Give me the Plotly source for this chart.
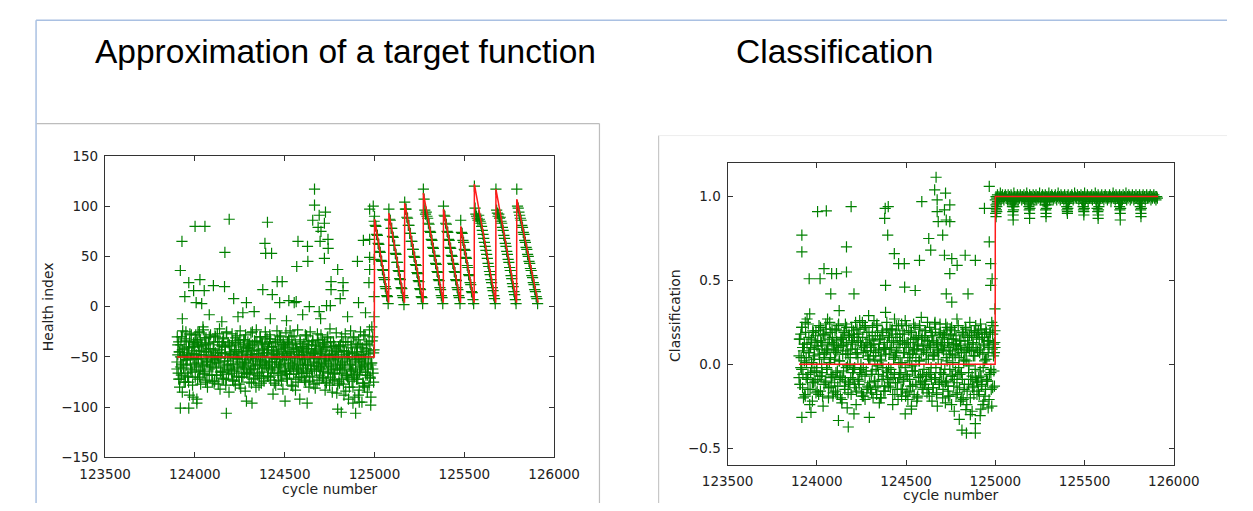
import plotly.graph_objects as go

W, H = 1253, 511

# ---------------- data: left panel (Health index) ----------------
hi_cycles = list(range(123900, 125000, 5))
hi_cycles_c = list(range(123902, 125002, 5))
hi_a = [
    -55,-38,-72,-45,-60,-30,-85,-50,-42,-66,-25,-58,-48,-75,-35,-52,-62,-40,-90,-47,
    -44,-28,-60,-36,-52,-70,-33,-48,-57,-20,-45,-64,-38,-55,-80,-42,-30,-58,-49,-68,
    -52,-35,-74,-46,-61,-27,-56,-43,-82,-50,-39,-65,-31,-54,-47,-72,-58,-36,-63,-45,
    -48,-66,-34,-57,-43,-78,-51,-29,-62,-45,-55,-38,-70,-49,-60,-33,-84,-53,-41,-67,
    -56,-37,-63,-48,-25,-59,-44,-71,-52,-35,-66,-47,-58,-30,-76,-50,-42,-61,-38,-54,
    -46,-69,-40,-57,-32,-63,-51,-87,-44,-60,-36,-55,-48,-73,-29,-58,-42,-65,-50,-38,
    -53,-41,-67,-35,-59,-47,-24,-62,-50,-79,-43,-56,-37,-64,-52,-45,-70,-33,-58,-48,
    -40,-61,-52,-28,-66,-45,-57,-38,-74,-49,-63,-34,-55,-46,-81,-42,-59,-50,-36,-68,
    -47,-58,-33,-64,-52,-41,-75,-56,-30,-62,-48,-70,-44,-85,-53,-39,-66,-57,-45,-78,
    -50,-63,-38,-72,-55,-44,-88,-60,-35,-68,-52,-47,-80,-58,-41,-74,-62,-30,-90,-55,
    -45,-67,-52,-83,-38,-60,-48,-76,-28,-57,-65,-42,-85,-50,-35,-70,-58,-20,-62,-46,
]
hi_b = [
    -62,-48,-35,-80,-50,-68,-43,-58,-75,-32,-53,-46,-70,-40,-88,-57,-28,-65,-51,-38,
    -35,-56,-48,-72,-40,-25,-63,-52,-38,-66,-58,-31,-75,-45,-54,-36,-68,-42,-60,-50,
    -60,-44,-53,-30,-68,-49,-77,-38,-55,-64,-46,-35,-72,-58,-40,-26,-62,-51,-85,-48,
    -57,-39,-73,-50,-64,-36,-45,-60,-52,-70,-33,-81,-47,-58,-40,-66,-55,-44,-62,-35,
    -42,-65,-51,-76,-38,-54,-62,-35,-80,-47,-58,-43,-69,-55,-36,-61,-49,-74,-56,-30,
    -58,-43,-62,-35,-70,-48,-55,-40,-66,-52,-78,-45,-33,-60,-50,-68,-57,-38,-82,-47,
    -40,-64,-49,-72,-56,-36,-61,-45,-30,-58,-67,-50,-83,-42,-62,-75,-48,-57,-40,-66,
    -55,-46,-73,-58,-42,-64,-35,-80,-51,-59,-38,-70,-47,-62,-44,-56,-76,-33,-60,-52,
    -62,-45,-70,-38,-57,-83,-49,-40,-66,-54,-78,-35,-60,-47,-63,-72,-51,-42,-86,-58,
    -40,-76,-58,-48,-66,-35,-62,-54,-84,-45,-70,-92,-50,-63,-38,-57,-80,-68,-47,-61,
    -72,-40,-88,-55,-63,-48,-95,-58,-45,-80,-52,-37,-68,-60,-78,-44,-90,-56,-30,-75,
]
hi_c = [
    -30,-66,-45,-72,-38,-57,-24,-61,-49,-75,-34,-53,-69,-41,-27,-63,-47,-78,-36,-58,
    -70,-33,-52,-26,-64,-44,-77,-39,-59,-23,-67,-48,-31,-73,-55,-37,-62,-28,-50,-74,
    -42,-76,-29,-56,-68,-35,-51,-22,-65,-46,-71,-32,-60,-40,-78,-25,-54,-67,-38,-47,
    -63,-27,-58,-74,-43,-31,-69,-52,-36,-77,-24,-61,-45,-70,-33,-56,-28,-66,-48,-39,
    -75,-41,-26,-62,-50,-72,-34,-57,-23,-68,-44,-78,-30,-53,-65,-37,-71,-46,-25,-59,
    -32,-69,-55,-28,-73,-40,-61,-47,-76,-35,-52,-24,-66,-43,-58,-30,-74,-50,-36,-64,
    -57,-26,-71,-45,-33,-67,-51,-78,-38,-60,-29,-54,-72,-41,-23,-63,-48,-35,-70,-44,
    -66,-37,-53,-75,-29,-58,-42,-69,-25,-62,-47,-34,-77,-51,-39,-64,-27,-56,-73,-40,
    -28,-60,-43,-71,-36,-54,-76,-31,-65,-48,-22,-59,-40,-73,-35,-67,-52,-26,-62,-45,
    -74,-39,-61,-30,-56,-77,-44,-27,-68,-50,-35,-72,-58,-24,-64,-46,-31,-70,-53,-37,
    -49,-72,-33,-65,-25,-59,-41,-76,-54,-29,-68,-38,-62,-47,-23,-71,-56,-34,-66,-43,
]
hi_out_x = [123928,123919,123944,124001,124056,124191,124167,123966,124028,124103,
            124052,123993,124165,124216,124007,124038,124404,124390,124394,124427,
            124378,124458,124486,124574,124627,124629,124567,124431,124472,124564,
            124666,124666,124656,124692,124727,124686,124721,124702,124741,124697,
            124742,124721,124795,124758,124758,124825,124825,124809,124754,124733,
            124692,124637,124905,124938,124969,124973,124973,124973,124993,124973,
            124911,124523,124553,124287,124267,124998,124998,124998,124998,
            123919,123966,124011,124011,124175,124287,124318,124502,124584,124625,
            124795,124815,124895,124880,124915,124942,124979,
            123930,124080,124150,124240,124330,124420,124510,124600,124700,124850,124950]
hi_out_y = [65,36,10,80,80,87,54,24,27,21,
            16,16,20,8,4,3,84,63,53,53,
            17,25,25,65,60,45,40,12,4,5,
            117,101,86,91,94,79,83,75,67,65,
            58,48,37,25,17,24,16,8,1,1,
            -5,0,45,66,24,37,49,97,100,67,
            4,6,4,4,-6,-10,10,47,85,
            -101,-101,-92,-96,-106,-94,-96,-94,-92,-96,
            -102,-105,-106,-96,-95,-79,-98,
            -12,-8,-15,-10,-5,-12,-14,-8,-12,-10,-6]

flat_start = 123900
flat_level = -50
tooth_start = [125000, 125080, 125168, 125272, 125384, 125480, 125556, 125676, 125792]
tooth_end = 125912
tooth_peak = [87, 93, 103, 113, 97, 80, 122, 117, 107]
tooth_floor = 4

saw_x = list(range(125000, 125912, 4))
saw_y = [
    90,81,80,72,71,63,62,55,54,46,45,37,36,29,27,20,18,11,10,3,
    97,87,86,78,78,70,69,61,61,53,52,44,44,36,35,28,27,19,18,11,9,2,
    104,97,97,89,88,81,81,73,73,65,65,57,57,50,49,42,41,34,33,26,25,18,17,10,9,3,
    117,107,96,92,94,90,88,83,82,75,74,67,66,59,58,51,50,43,42,35,34,27,26,19,17,11,9,3,
    100,91,90,83,82,75,74,67,66,59,58,51,50,43,42,35,34,27,26,19,17,11,9,3,
    86,74,73,66,64,57,56,49,48,41,39,32,31,24,22,15,14,7,3,
    120,98,92,90,88,86,91,87,85,83,80,76,72,68,64,60,56,52,48,43,40,35,32,27,24,19,16,11,8,3,
    117,96,93,90,92,88,89,85,83,79,76,71,68,63,60,55,52,47,44,39,36,31,28,23,20,15,12,7,3,
    117,100,98,94,91,88,86,81,79,74,72,66,64,59,57,52,50,45,43,38,36,31,29,24,22,17,15,10,8,3,
]

# ---------------- data: right panel (Classification) ----------------
cls_cycles = list(range(123900, 125000, 5))
cls_cycles_c = list(range(123902, 125002, 5))
cls_a = [
    .05,-.12,.18,-.03,.10,-.20,.02,.25,-.08,.12,-.15,.07,.30,-.05,.15,-.22,.03,.09,-.10,.20,
    -.02,.14,-.18,.06,.22,-.07,.11,-.25,.04,.17,-.11,.08,.27,-.14,.01,.19,-.06,.13,-.19,.09,
    .03,-.16,.21,-.04,.10,.32,-.09,.15,-.21,.06,.12,-.13,.24,-.02,.08,-.17,.18,.00,-.08,.14,
    -.05,.20,-.12,.09,-.24,.16,.04,-.10,.26,-.03,.11,-.19,.07,.22,-.07,.13,-.15,.05,.29,-.11,
    .08,-.06,.17,-.20,.12,.02,-.14,.23,-.01,.09,-.23,.15,.05,-.09,.19,-.16,.10,.31,-.04,.13,
    -.13,.06,.21,-.08,.14,-.18,.03,.27,-.11,.08,.16,-.21,.01,.12,-.06,.24,-.15,.07,.18,-.02,
    .10,-.17,.04,.20,-.09,.13,-.25,.06,.15,-.04,.22,-.12,.09,-.19,.17,.02,-.07,.28,-.14,.11,
    -.03,.16,-.10,.07,.25,-.15,.12,-.06,.19,-.22,.05,.14,-.08,.21,-.17,.09,.03,-.12,.24,-.05,
    .13,-.20,.08,.17,-.11,.04,.22,-.16,.10,-.03,.18,-.24,.06,.15,-.09,.12,-.18,.27,-.06,.09,
    -.14,.11,-.05,.19,-.21,.07,.14,-.27,.02,.16,-.12,.09,-.30,.20,-.07,.13,-.18,.05,.23,-.10,
    .08,-.16,.15,-.04,.21,-.12,.06,-.22,.18,.03,-.09,.14,-.26,.10,.19,-.05,.25,-.14,.12,.07,
]
cls_b = [
    -.08,.15,-.02,.22,-.14,.08,.12,-.19,.04,.27,-.06,.16,-.24,.10,.01,-.11,.19,-.04,.13,-.17,
    .11,-.09,.20,.03,-.16,.13,-.05,.18,-.12,.07,.24,-.02,.09,-.20,.15,.04,-.13,.21,-.07,.12,
    -.11,.07,.14,-.18,.23,.02,-.07,.11,-.23,.16,-.04,.20,-.10,.13,-.26,.06,.17,-.12,.09,.22,
    .12,-.03,.16,-.14,.06,.21,-.09,.18,-.05,.13,-.17,.25,-.02,.10,-.21,.08,.19,-.13,.03,.15,
    -.15,.10,-.04,.14,.26,-.10,.07,-.18,.19,-.06,.12,.03,-.20,.17,-.02,.09,-.13,.06,.21,-.09,
    .17,-.11,.09,-.03,.20,-.24,.13,-.06,.05,.23,-.15,.10,-.08,.18,.01,-.19,.14,-.10,.07,.26,
    -.06,.13,-.21,.10,.02,-.13,.19,-.04,.08,-.18,.15,.04,-.22,.12,-.08,.23,-.11,.06,.17,-.15,
    .09,-.12,.20,-.07,.14,.03,-.19,.11,-.02,.17,-.14,.06,.24,-.09,.13,-.25,.08,.18,-.05,.12,
    -.10,.16,-.06,.11,-.23,.20,.02,-.13,.15,-.19,.08,.22,-.07,.12,-.28,.05,.17,-.11,.09,-.02,
    .14,-.22,.07,-.09,.18,-.15,.03,.21,-.24,.10,-.05,.17,-.20,.08,-.28,.12,-.13,.19,-.08,.16,
    -.11,.20,-.18,.09,-.07,.16,-.24,.12,.02,-.15,.19,-.10,.07,-.21,.14,-.03,-.25,.18,.05,-.13,
]
cls_c = [
    .15,-.12,.04,.22,-.06,.10,-.18,.19,.01,-.09,.24,.07,-.15,.13,-.02,.20,-.11,.05,.17,-.04,
    -.16,.09,.23,-.07,.14,.00,-.19,.18,.06,-.10,.21,-.03,.12,-.14,.25,.03,-.08,.16,-.17,.11,
    .20,-.05,.08,-.13,.24,.02,-.20,.15,-.08,.11,.19,-.15,.06,.22,-.01,-.11,.17,.04,-.18,.13,
    -.09,.18,-.02,.25,-.16,.07,.14,-.12,.21,.00,-.06,.16,-.19,.10,.23,-.04,.12,-.14,.19,.03,
    .11,-.17,.22,.05,-.10,.17,-.03,.24,-.13,.08,.15,-.20,.02,.20,-.07,.13,-.16,.09,.25,-.05,
    -.02,.16,-.14,.10,.21,-.08,.04,-.18,.18,.07,-.11,.23,-.05,.14,-.15,.01,.20,-.09,.12,-.19,
    .23,-.07,.13,-.16,.06,.19,-.01,-.13,.24,.09,-.04,.16,-.20,.11,.02,.21,-.10,.15,-.06,.08,
    -.12,.20,.03,-.17,.14,-.05,.22,.10,-.09,.17,-.14,.05,.25,-.02,-.18,.12,.07,-.11,.19,.00,
    .09,-.15,.18,-.03,.24,-.10,.13,-.19,.06,.21,-.07,.15,.01,-.13,.20,-.04,.11,-.17,.23,.04,
    -.06,.14,-.20,.19,.02,-.12,.22,.08,-.16,.12,-.01,.25,-.09,.17,-.14,.05,.20,-.03,.10,-.18,
    .18,-.08,.07,.24,-.13,.16,-.02,.11,-.19,.21,.03,-.10,.14,-.06,.19,-.15,.09,.23,-.04,.13,
]
cls_out_x = [123916,123916,124004,124053,124192,124166,123957,124018,124040,124083,
             124110,124166,124078,124208,124383,124400,124380,124397,124385,124434,
             124458,124490,124492,124551,124588,124627,124638,124575,124668,124660,
             124674,124674,124680,124705,124715,124721,124745,124725,124745,124715,
             124756,124745,124786,124831,124888,124847,124725,124756,124939,124966,
             124966,124974,124982,124974,124998,124998,124998,
             123916,123967,124121,124176,124208,124294,124495,124530,124798,124813,
             124838,124888,124888,124915,124919]
cls_out_y = [.77,.67,.91,.915,.94,.70,.51,.51,.57,.54,
             .54,.55,.42,.42,.93,.94,.87,.77,.47,.66,
             .60,.60,.46,.44,.97,.75,.68,.62,1.115,1.04,
             .98,.91,.85,.77,.92,1.02,.95,.86,.85,.65,
             .63,.54,.59,.65,.62,.42,.42,.37,.93,1.06,
             .73,.60,.51,.47,.33,.20,.10,
             -.316,-.287,-.335,-.374,-.296,-.316,-.296,-.267,-.329,-.392,
             -.41,-.41,-.354,-.306,-.267]

cls_up_x = list(range(125000, 125912, 4))
cls_up_y = [
    .98,1.0,.99,1.01,.97,1.0,.99,1.02,.98,1.0,1.01,.99,.98,1.0,1.01,.99,1.0,.98,1.01,
    .99,1.0,.98,1.01,1.0,.97,.99,1.02,1.0,.98,1.0,.99,1.01,.98,1.0,.99,1.01,1.0,.98,
    1.0,.99,1.01,.98,1.0,.99,1.02,1.0,.97,.99,1.01,1.0,.98,1.0,.99,1.01,.98,1.0,.99,
    1.01,.98,1.0,.99,1.0,1.02,.98,.99,1.0,1.01,.97,1.0,.99,1.01,.98,1.0,.99,1.0,1.02,
    .98,1.0,.99,1.01,1.0,.98,.99,1.0,1.01,.99,.98,1.0,1.02,.99,1.0,.98,1.01,1.0,.99,
    1.0,.98,1.01,.99,1.0,.97,1.0,1.01,.99,.98,1.0,.99,1.01,1.0,.98,.99,1.02,1.0,.99,
    .99,1.01,1.0,.98,1.0,.99,1.01,.98,1.0,.99,1.0,1.02,.98,1.0,.99,1.01,.97,1.0,.99,
    1.0,.99,1.01,.98,1.0,1.0,.99,1.02,.98,1.0,.99,1.01,1.0,.98,.99,1.0,1.01,.99,1.0,
    .98,1.0,1.01,.99,1.0,.98,1.0,.99,1.01,1.0,.97,.99,1.0,1.02,.99,1.0,.98,1.01,1.0,
    .99,1.0,.98,1.01,.99,1.0,1.0,.98,1.01,.99,1.0,.99,1.02,.98,1.0,.99,1.01,1.0,.98,
    1.0,.99,1.01,1.0,.98,1.0,.99,1.01,.99,1.0,.98,1.0,1.01,.99,1.0,.98,1.0,1.01,.99,
    1.0,.98,1.0,1.01,.99,1.0,.99,1.0,1.01,.98,1.0,.99,1.0,1.01,.99,1.0,.98,1.0,.99,
]
cls_dip_x = [125000,125002,125004,125006,125008,125010,125012,125004,125008,
             125092,125096,125098,125100,125100,125102,125104,125108,125100,
             125184,125188,125190,125192,125192,125194,125196,125200,
             125276,125280,125282,125284,125284,125286,125290,125294,
             125396,125400,125402,125404,125404,125406,125410,
             125488,125492,125494,125496,125496,125498,125502,
             125566,125570,125574,125576,125576,125578,125580,125584,
             125692,125696,125698,125700,125700,125702,125706,
             125808,125812,125814,125816,125816,125818,125822]
cls_dip_y = [.93,.90,.95,.92,.94,.96,.97,.88,.91,
             .96,.94,.91,.89,.86,.92,.94,.97,.95,
             .96,.94,.92,.90,.87,.93,.95,.97,
             .97,.95,.92,.90,.88,.93,.95,.97,
             .96,.94,.92,.90,.91,.93,.96,
             .96,.94,.92,.89,.91,.93,.96,
             .96,.93,.91,.89,.87,.92,.94,.97,
             .96,.94,.92,.90,.86,.93,.96,
             .96,.94,.92,.90,.88,.93,.96]
cls_low, cls_high = 0.0, 1.0

x_ticks = [123500, 124000, 124500, 125000, 125500, 126000]
hi_ticks = [-150, -100, -50, 0, 50, 100, 150]
cls_ticks = [-0.5, 0.0, 0.5, 1.0]

# ---------------- helpers ----------------
def fx(p):
    return p / W

def fy(p):
    return 1 - p / H

def pairs(xs, ys):
    n = min(len(xs), len(ys))
    return list(xs[:n]), list(ys[:n])

GREEN = "#008000"
RED = "#ff1a1a"
marker = dict(symbol="cross-thin", size=8, color=GREEN, line=dict(color=GREEN, width=1.2))

lx, ly = [], []
for xs, ys in [(hi_cycles, hi_a), (hi_cycles, hi_b), (hi_cycles_c, hi_c),
               (hi_out_x, hi_out_y), (saw_x, saw_y)]:
    a, b = pairs(xs, ys)
    lx += a
    ly += b

red1_x = [flat_start, tooth_start[0] - 1]
red1_y = [flat_level, flat_level]
for i, s in enumerate(tooth_start):
    nxt = tooth_start[i + 1] if i + 1 < len(tooth_start) else tooth_end
    red1_x += [s, nxt - 1]
    red1_y += [tooth_peak[i], tooth_floor]

rx, ry = [], []
for xs, ys in [(cls_cycles, cls_a), (cls_cycles, cls_b), (cls_cycles_c, cls_c),
               (cls_out_x, cls_out_y), (cls_up_x, cls_up_y), (cls_dip_x, cls_dip_y)]:
    a, b = pairs(xs, ys)
    rx += a
    ry += b
red2_x = [flat_start, tooth_start[0] - 1, tooth_start[0], tooth_end]
red2_y = [cls_low, cls_low, cls_high, cls_high]

fig = go.Figure()
fig.add_trace(go.Scatter(x=lx, y=ly, mode="markers", marker=marker, xaxis="x", yaxis="y",
                         showlegend=False, hoverinfo="skip"))
fig.add_trace(go.Scatter(x=red1_x, y=red1_y, mode="lines", line=dict(color=RED, width=1.5),
                         xaxis="x", yaxis="y", showlegend=False))
fig.add_trace(go.Scatter(x=rx, y=ry, mode="markers", marker=marker, xaxis="x2", yaxis="y2",
                         showlegend=False, hoverinfo="skip"))
fig.add_trace(go.Scatter(x=red2_x, y=red2_y, mode="lines", line=dict(color=RED, width=1.5),
                         xaxis="x2", yaxis="y2", showlegend=False))

tickfont = dict(family="DejaVu Sans", size=13.5, color="#222222")
common = dict(showgrid=False, zeroline=False, showline=True, linecolor="#333333", linewidth=1.3,
              mirror="ticks", ticks="inside", ticklen=5, tickwidth=1, tickcolor="#333333",
              tickfont=tickfont)

fig.update_layout(
    width=W, height=H, margin=dict(l=0, r=0, t=0, b=0),
    paper_bgcolor="white", plot_bgcolor="white",
    xaxis=dict(domain=[fx(82.5), fx(551)], range=[123500, 126000], tickvals=x_ticks,
               tickformat="d", ticklabelstandoff=4, anchor="y", **common),
    yaxis=dict(domain=[fy(464), fy(152.7)], range=[-150, 150], tickvals=hi_ticks,
               tickformat="d", ticklabelstandoff=3, anchor="x", **common),
    xaxis2=dict(domain=[fx(732), fx(1197.5)], range=[123500, 126000], tickvals=x_ticks,
                tickformat="d", ticklabelstandoff=4, anchor="y2", **common),
    yaxis2=dict(domain=[fy(471.7), fy(160)], range=[-0.6, 1.2], tickvals=cls_ticks,
                tickformat=".1f", ticklabelstandoff=3, anchor="x2", **common),
)

labfont = dict(family="DejaVu Sans", size=14, color="#222222")
titlefont = dict(family="Liberation Sans", size=33.5, color="black")
ann = [
    dict(text="Approximation of a target function", x=fx(70), y=fy(45.4), xanchor="left",
         yanchor="middle", font=titlefont),
    dict(text="Classification", x=fx(739), y=fy(45.4), xanchor="left", yanchor="middle",
         font=titlefont),
    dict(text="Health index", x=fx(23.8), y=fy(308), textangle=-90, xanchor="center",
         yanchor="middle", font=labfont),
    dict(text="cycle number", x=fx(316.7), y=fy(496.7), xanchor="center", yanchor="middle",
         font=labfont),
    dict(text="Classification", x=fx(677), y=fy(317), textangle=-90, xanchor="center",
         yanchor="middle", font=labfont),
    dict(text="cycle number", x=fx(964.8), y=fy(503), xanchor="center", yanchor="middle",
         font=labfont),
]
for a in ann:
    a.update(xref="paper", yref="paper", showarrow=False)
fig.update_layout(annotations=ann)

def seg(x0, y0, x1, y1, color, width):
    return dict(type="line", xref="paper", yref="paper", x0=fx(x0), y0=fy(y0), x1=fx(x1),
                y1=fy(y1), line=dict(color=color, width=width))

fig.update_layout(shapes=[
    seg(10.5, 12.7, W, 12.7, "#a9c0e2", 1.5),
    seg(10.5, 12.7, 10.5, H, "#a9c0e2", 1.5),
    seg(11, 119.3, 598.3, 119.3, "#bdbdbd", 1.2),
    seg(598.3, 119.3, 598.3, H, "#bdbdbd", 1.2),
    seg(660, 131.7, 660, H, "#c8c8c8", 1.2),
    seg(660, 131.7, W, 131.7, "#ededed", 1),
])

fig.write_html("out.html", config={"displayModeBar": False},
               post_script="document.body.style.margin='0px';document.body.style.overflow='hidden';")
